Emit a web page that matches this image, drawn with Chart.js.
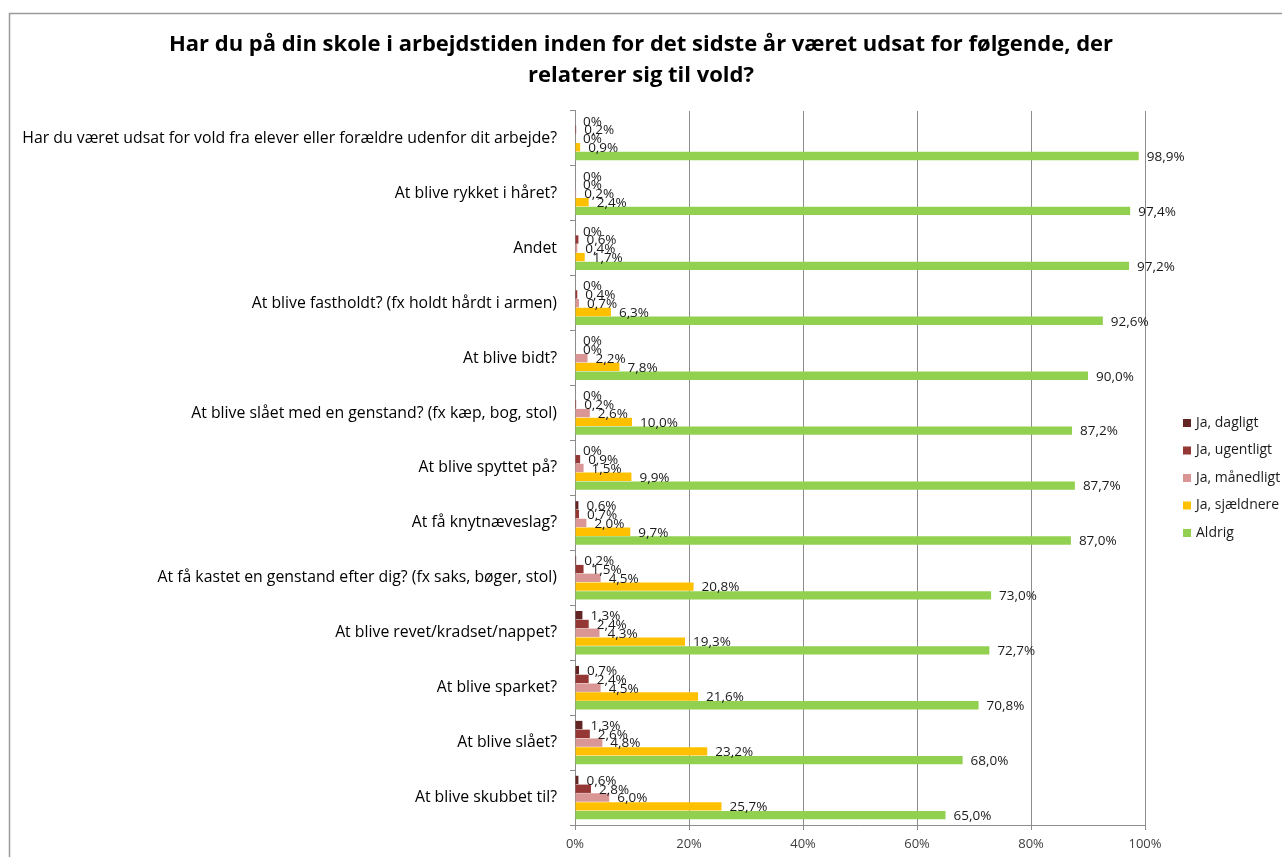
<!DOCTYPE html>
<html>
<head>
<meta charset="utf-8">
<script src="https://cdn.jsdelivr.net/npm/chart.js@4.4.1/dist/chart.umd.min.js"></script>
<style>
    html, body { margin: 0; padding: 0; background: #fff; }
    #wrap { width: 1282px; height: 857px; position: relative; }
</style>
</head>
<body>
<div id="wrap"><canvas id="chart" width="1282" height="857"></canvas></div>
<script>
// Chart data
const categories = [
    'Har du været udsat for vold fra elever eller forældre udenfor dit arbejde?',
    'At blive rykket i håret?',
    'Andet',
    'At blive fastholdt? (fx holdt hårdt i armen)',
    'At blive bidt?',
    'At blive slået med en genstand? (fx kæp, bog, stol)',
    'At blive spyttet på?',
    'At få knytnæveslag?',
    'At få kastet en genstand efter dig? (fx saks, bøger, stol)',
    'At blive revet/kradset/nappet?',
    'At blive sparket?',
    'At blive slået?',
    'At blive skubbet til?'
];

const seriesNames = ['Ja, dagligt', 'Ja, ugentligt', 'Ja, månedligt', 'Ja, sjældnere', 'Aldrig'];
const seriesColors = ['#632523', '#953735', '#D99694', '#FFC000', '#92D050'];

const dagligt    = [0, 0, 0, 0, 0, 0, 0, 0.6, 0.2, 1.3, 0.7, 1.3, 0.6];
const ugentligt  = [0.2, 0, 0.6, 0.4, 0, 0.2, 0.9, 0.7, 1.5, 2.4, 2.4, 2.6, 2.8];
const maanedligt = [0, 0.2, 0.4, 0.7, 2.2, 2.6, 1.5, 2.0, 4.5, 4.3, 4.5, 4.8, 6.0];
const sjaeldnere = [0.9, 2.4, 1.7, 6.3, 7.8, 10.0, 9.9, 9.7, 20.8, 19.3, 21.6, 23.2, 25.7];
const aldrig     = [98.9, 97.4, 97.2, 92.6, 90.0, 87.2, 87.7, 87.0, 73.0, 72.7, 70.8, 68.0, 65.0];

const xTicks = [0, 20, 40, 60, 80, 100];

const titleLines = [
    'Har du på din skole i arbejdstiden inden for det sidste år været udsat for følgende, der',
    'relaterer sig til vold?'
];

const seriesValues = [dagligt, ugentligt, maanedligt, sjaeldnere, aldrig];
const FONT = '"Open Sans", Lato, sans-serif';

// Danish number format: comma decimal, zero shown as 0%
function formatPct(v) {
    if (v === 0) return '0%';
    return v.toFixed(1).replace('.', ',') + '%';
}

// Outer frame like the spreadsheet chart area
const framePlugin = {
    id: 'frame',
    beforeDraw(chart) {
        const ctx = chart.ctx;
        ctx.save();
        ctx.fillStyle = '#fff';
        ctx.fillRect(0, 0, chart.width, chart.height);
        ctx.strokeStyle = '#9a9a9a';
        ctx.lineWidth = 1.5;
        ctx.strokeRect(9.5, 13.5, chart.width + 20, chart.height + 20);
        ctx.restore();
    }
};

// Value labels at outside end of each bar
const valueLabels = {
    id: 'valueLabels',
    afterDatasetsDraw(chart) {
        const ctx = chart.ctx;
        ctx.save();
        ctx.font = '13.5px ' + FONT;
        ctx.fillStyle = '#1a1a1a';
        ctx.textAlign = 'left';
        ctx.textBaseline = 'middle';
        chart.data.datasets.forEach((ds, i) => {
            const meta = chart.getDatasetMeta(i);
            meta.data.forEach((bar, j) => {
                ctx.fillText(formatPct(ds.data[j]), bar.x + 8, bar.y + 1);
            });
        });
        ctx.restore();
    }
};

// Legend drawn to the right of the plot
const sideLegend = {
    id: 'sideLegend',
    afterDraw(chart) {
        const ctx = chart.ctx;
        ctx.save();
        ctx.font = '14px ' + FONT;
        ctx.textBaseline = 'middle';
        ctx.textAlign = 'left';
        chart.data.datasets.forEach((ds, i) => {
            const y = 423 + i * 27.5;
            ctx.fillStyle = ds.backgroundColor;
            ctx.fillRect(1183, y - 4, 8, 8);
            ctx.fillStyle = '#1a1a1a';
            ctx.fillText(ds.label, 1196, y);
        });
        ctx.restore();
    }
};

const datasets = seriesNames.map((name, i) => ({
    label: name,
    data: seriesValues[i],
    backgroundColor: seriesColors[i],
    borderWidth: 0,
    categoryPercentage: 0.8,
    barPercentage: 0.95
}));

const chart = new Chart(document.getElementById('chart'), {
    type: 'bar',
    data: {
        labels: categories,
        datasets: datasets
    },
    options: {
        indexAxis: 'y',
        responsive: false,
        animation: false,
        layout: {
            padding: 0
        },
        plugins: {
            legend: { display: false },
            tooltip: { enabled: false },
            title: {
                display: true,
                text: titleLines,
                color: '#000',
                font: { family: FONT, size: 22, weight: 'bold', lineHeight: 1.42 },
                padding: { top: 29, bottom: 19.5 }
            }
        },
        scales: {
            x: {
                min: 0,
                max: 100,
                afterBuildTicks(scale) {
                    scale.ticks = xTicks.map(v => ({ value: v }));
                },
                afterFit(scale) {
                    scale.height = 32;
                },
                grid: {
                    color: '#8c8c8c',
                    tickLength: 5,
                    tickColor: '#8c8c8c'
                },
                border: { color: '#8c8c8c' },
                ticks: {
                    padding: 6,
                    color: '#404040',
                    font: { family: FONT, size: 13 },
                    callback: v => v + '%'
                }
            },
            y: {
                afterFit(scale) {
                    scale.width = 575;
                },
                grid: {
                    drawOnChartArea: false,
                    offset: true,
                    tickLength: 5,
                    tickColor: '#8c8c8c'
                },
                border: { color: '#8c8c8c' },
                ticks: {
                    padding: 13,
                    color: '#000',
                    font: { family: FONT, size: 15.8 }
                }
            },
            // empty right-hand axis that keeps room for the legend
            legendSpace: {
                type: 'linear',
                position: 'right',
                afterFit(scale) {
                    scale.width = 137;
                },
                grid: { display: false },
                border: { display: false },
                ticks: { display: false }
            }
        }
    },
    plugins: [framePlugin, valueLabels, sideLegend]
});
</script>
</body>
</html>
